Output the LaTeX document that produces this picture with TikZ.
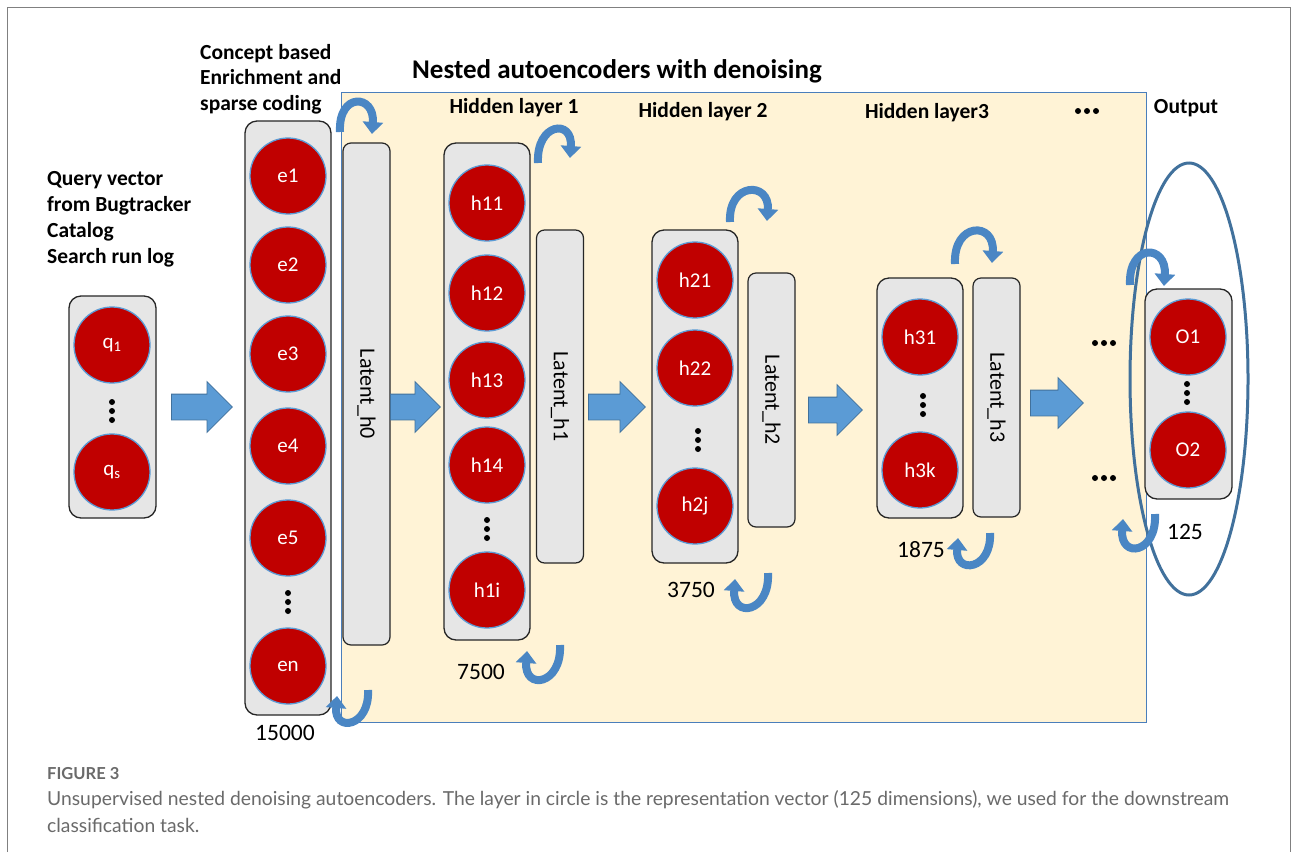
\documentclass[tikz,border=0pt]{standalone}
\usepackage{fontspec}
\setmainfont{Carlito}
\newfontfamily\capfont{Lato}
\usetikzlibrary{shapes.arrows,shapes.geometric,arrows.meta,calc}

\definecolor{neuronred}{HTML}{C00000}
\definecolor{ringblue}{HTML}{5B9BD5}
\definecolor{boxgray}{HTML}{E6E6E6}
\definecolor{cream}{HTML}{FFF3D6}
\definecolor{panelblue}{HTML}{4A7EBB}
\definecolor{flowblue}{HTML}{5B9BD5}
\definecolor{flowedge}{HTML}{41719C}
\definecolor{loopblue}{HTML}{4A86C4}
\definecolor{ovalblue}{HTML}{41719C}
\definecolor{capgray}{HTML}{6A6A6A}
\definecolor{framegray}{HTML}{808080}

\newcommand\fsz[1]{\fontsize{#1}{#1}\selectfont}

% three stacked dots inside a layer column
\newcommand\vdotsat[2]{%
  \fill (#1,#2-9) circle[radius=3pt];
  \fill (#1,#2) circle[radius=3pt];
  \fill (#1,#2+9) circle[radius=3pt];}
% three dots in a row
\newcommand\hdotsat[2]{%
  \fill (#1-9,#2) circle[radius=3pt];
  \fill (#1,#2) circle[radius=3pt];
  \fill (#1+9,#2) circle[radius=3pt];}
% recurrent loop arrows: over the top (tail, tip, height) and under the bottom
\newcommand\overloop[5]{%
  \draw[looparrow] (#1,#2) .. controls (#1-2,#2-#5) and (#3+3,#4-#5) .. (#3,#4);}
\newcommand\underloop[5]{%
  \draw[looparrow] (#1,#2) .. controls (#1+2,#2+#5) and (#3-3,#4+#5) .. (#3,#4);}

\begin{document}
\begin{tikzpicture}[x=1pt,y=-1pt,
  grp/.style={draw=black!85, line width=1.3pt, fill=boxgray, rounded corners=12pt,
    minimum width=87pt, inner sep=0pt},
  latbox/.style={draw=black!85, line width=1.2pt, fill=boxgray, rounded corners=8pt,
    rotate=-90, minimum height=47pt, inner sep=0pt, font=\fsz{22}},
  neuron/.style={circle, fill=neuronred, draw=ringblue, line width=1.3pt,
    minimum size=76pt, inner sep=0pt, text=white, font=\fsz{21}},
  flow/.style={single arrow, fill=flowblue, draw=flowedge, line width=0.8pt, anchor=tail,
    single arrow head extend=12.5pt, inner xsep=0pt, inner ysep=12.5pt},
  looparrow/.style={draw=loopblue, line width=8pt,
    -{Triangle[width=20pt,length=12pt]}},
  head/.style={font=\bfseries\fsz{21.5}, anchor=base west, inner sep=0pt},
  count/.style={font=\fsz{23.5}, inner sep=0pt},
  capline/.style={font=\capfont\fsz{19.3}, text=capgray, anchor=base west, inner sep=0pt}]

\useasboundingbox (0,0) rectangle (1292,852);
\fill[white] (0,0) rectangle (1292,852);
\draw[framegray, line width=1pt] (7,852) -- (7,7) -- (1290,7) -- (1290,852);

% autoencoder panel
\node[draw=panelblue, line width=1pt, fill=cream, anchor=north west, inner sep=0pt,
  minimum width=805pt, minimum height=630pt] (panel) at (341,92) {};

% headings
\node[head] (q-t1) at (47,185) {Query vector};
\node[head] (q-t2) at (47,211) {from Bugtracker};
\node[head] (q-t3) at (47,237) {Catalog};
\node[head] (q-t4) at (47,263) {Search run log};
\node[head] (c-t1) at (200,59) {Concept based};
\node[head] (c-t2) at (200,84) {Enrichment and};
\node[head] (c-t3) at (200,110) {sparse coding};
\node[head, font=\bfseries\fsz{27}] (title) at (412,78) {Nested autoencoders with denoising};
\node[head, anchor=base] (hl1) at (514,113) {Hidden layer 1};
\node[head, anchor=base] (hl2) at (703,117) {Hidden layer 2};
\node[head, anchor=base] (hl3) at (927,118) {Hidden layer3};
\node[head, anchor=base] (outl) at (1186,113) {Output};
\hdotsat{1087}{111}

% query vector
\node[grp, minimum height=222pt] (qbox) at (112.5,407) {};
\node[neuron] (q1) at (112,345) {q\textsubscript{1}};
\node[neuron] (qs) at (112,472) {q\textsubscript{s}};
\vdotsat{112}{411}

% enrichment layer
\node[grp, minimum width=86pt, minimum height=594pt] (ebox) at (288,418) {};
\node[neuron] (e1) at (288,176) {e1};
\node[neuron] (e2) at (288,265) {e2};
\node[neuron] (e3) at (288,354) {e3};
\node[neuron] (e4) at (288,446) {e4};
\node[neuron] (e5) at (288,538) {e5};
\vdotsat{288}{602}
\node[neuron] (en) at (288,666) {en};
\node[latbox, minimum width=502pt] (lat0) at (366.5,394) {Latent\_h0};
\node[count] (n0) at (285,733) {15000};

% hidden layer 1
\node[grp, minimum width=86pt, minimum height=497pt] (h1box) at (487,391.5) {};
\node[neuron] (h11) at (487,203) {h11};
\node[neuron] (h12) at (487,293) {h12};
\node[neuron] (h13) at (487,380) {h13};
\node[neuron] (h14) at (487,465) {h14};
\vdotsat{487}{529}
\node[neuron] (h1i) at (487,590) {h1i};
\node[latbox, minimum width=333pt] (lat1) at (560,396.5) {Latent\_h1};
\node[count] (n1) at (481,672) {7500};

% hidden layer 2
\node[grp, minimum width=86pt, minimum height=333pt] (h2box) at (695,396.5) {};
\node[neuron] (h21) at (695,280) {h21};
\node[neuron] (h22) at (695,368) {h22};
\vdotsat{698}{440}
\node[neuron] (h2j) at (695,506) {h2j};
\node[latbox, minimum width=254pt] (lat2) at (771.5,400) {Latent\_h2};
\node[count] (n2) at (691,590) {3750};

% hidden layer 3
\node[grp, minimum width=86pt, minimum height=240pt] (h3box) at (920,398) {};
\node[neuron] (h31) at (920,337) {h31};
\vdotsat{923}{405}
\node[neuron] (h3k) at (920,470) {h3k};
\node[latbox, minimum width=239pt] (lat3) at (996.5,397.5) {Latent\_h3};
\node[count] (n3) at (921,550) {1875};

% output layer
\node[grp, minimum height=210pt] (obox) at (1188.5,394) {};
\node[neuron] (o1) at (1188,337) {O1};
\vdotsat{1187}{393}
\node[neuron] (o2) at (1188,450) {O2};
\node[count] (n4) at (1185,532) {125};
\hdotsat{1104}{343}
\hdotsat{1104}{478}
\node[draw=ovalblue, line width=3pt, ellipse, minimum width=118pt, minimum height=432pt,
  inner sep=0pt] (rep) at (1189,379) {};

% forward flow between layers
\node[flow, minimum height=61pt] (f1) at (171,407) {};
\node[flow, minimum height=50pt] (f2) at (390,407) {};
\node[flow, minimum height=57pt] (f3) at (588,407) {};
\node[flow, minimum height=54pt] (f4) at (808,410) {};
\node[flow, minimum height=53pt] (f5) at (1030,403) {};

% denoising loops
\overloop{340}{132}{372}{134}{40}
\overloop{538}{163}{570}{158}{40}
\overloop{730}{222}{767}{221}{40}
\overloop{955}{264}{992}{263}{42}
\overloop{1130}{285}{1164}{286}{42}
\underloop{368}{690}{337}{696}{37}
\underloop{560}{645}{527}{651}{40}
\underloop{768}{573}{735}{579}{40}
\underloop{990}{533}{958}{538}{37}
\underloop{1155}{514}{1123}{519}{40}

% caption
\node[capline, font=\capfont\bfseries\fsz{16.5}] (fig) at (47,779) {FIGURE 3};
\node[capline] (cap1) at (47,805) {Unsupervised nested denoising autoencoders. The layer in circle is the representation vector (125 dimensions), we used for the downstream};
\node[capline] (cap2) at (47,832) {classification task.};
\end{tikzpicture}
\end{document}
